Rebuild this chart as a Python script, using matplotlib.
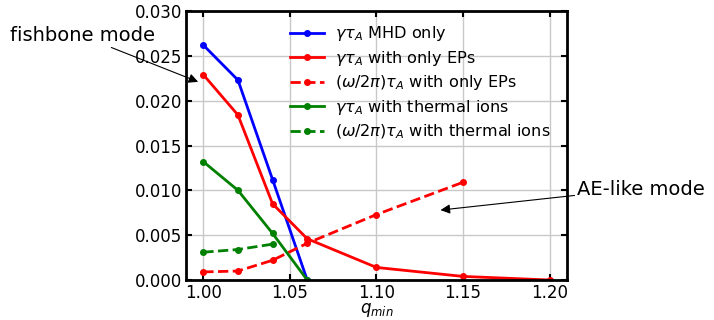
"""Growth rate and frequency vs q_min."""

import matplotlib
matplotlib.use("Agg")
import matplotlib.pyplot as plt

Q_MHD = [1.00, 1.02, 1.04, 1.06]
GAMMA_MHD = [0.0262, 0.0223, 0.0112, 0.0]

Q_EP = [1.00, 1.02, 1.04, 1.06, 1.10, 1.15, 1.20]
GAMMA_EP = [0.0229, 0.0184, 0.0085, 0.0046, 0.0014, 0.0004, 0.0]

Q_EP_FREQ = [1.00, 1.02, 1.04, 1.06, 1.10, 1.15]
FREQ_EP = [0.0009, 0.0010, 0.0022, 0.0041, 0.0073, 0.0109]

Q_TH = [1.00, 1.02, 1.04, 1.06]
GAMMA_TH = [0.0132, 0.0100, 0.0052, 0.0]

Q_TH_FREQ = [1.00, 1.02, 1.04]
FREQ_TH = [0.0031, 0.0034, 0.0040]


def main() -> None:
    fig = plt.figure(figsize=(7.14, 3.2), dpi=100)
    ax = fig.add_axes([0.2605, 0.125, 0.5335, 0.8406])

    ax.plot(Q_MHD, GAMMA_MHD, "b-", marker="o", ms=4, lw=2, label=r"$\gamma\tau_A$ MHD only")
    ax.plot(Q_EP, GAMMA_EP, "r-", marker="o", ms=4, lw=2, label=r"$\gamma\tau_A$ with only EPs")
    ax.plot(Q_EP_FREQ, FREQ_EP, "r--", marker="o", ms=4, lw=2,
            label=r"$(\omega/2\pi)\tau_A$ with only EPs")
    ax.plot(Q_TH, GAMMA_TH, "g-", marker="o", ms=4, lw=2, label=r"$\gamma\tau_A$ with thermal ions")
    ax.plot(Q_TH_FREQ, FREQ_TH, "g--", marker="o", ms=4, lw=2,
            label=r"$(\omega/2\pi)\tau_A$ with thermal ions")

    ax.set_xlim(0.99, 1.21)
    ax.set_ylim(0, 0.030)
    ax.set_xticks([1.00, 1.05, 1.10, 1.15, 1.20])
    ax.set_yticks([0.0, 0.005, 0.010, 0.015, 0.020, 0.025, 0.030])
    ax.set_yticklabels([f"{v:.3f}" for v in ax.get_yticks()])
    ax.set_xticklabels([f"{v:.2f}" for v in ax.get_xticks()])
    ax.tick_params(direction="in", right=True, top=True, labelsize=12, width=1.5, length=4, pad=3)
    ax.grid(True, color="#c8c8c8", lw=1)
    for sp in ax.spines.values():
        sp.set_linewidth(2)
    ax.set_xlabel(r"$q_{min}$", fontsize=12, labelpad=-1)

    ax.legend(loc="upper center", bbox_to_anchor=(0.615, 1.005), frameon=False, fontsize=11.6,
              handlelength=2.1, labelspacing=0.35, handletextpad=0.7)

    ax.annotate("fishbone mode", xy=(0.997, 0.0221), xytext=(0.8884, 0.0273),
                fontsize=14, ha="left", va="center",
                arrowprops=dict(arrowstyle="-|>", color="black", lw=0.8,
                                shrinkA=0, shrinkB=0, relpos=(0.65, 0.0)),
                annotation_clip=False)
    ax.annotate("AE-like mode", xy=(1.137, 0.0078), xytext=(1.216, 0.0101),
                fontsize=14, ha="left", va="center",
                arrowprops=dict(arrowstyle="-|>", color="black", lw=0.8,
                                shrinkA=0, shrinkB=0, relpos=(0.0, 0.2)),
                annotation_clip=False)

    fig.savefig("out.png", dpi=100)
    plt.close(fig)


if __name__ == "__main__":
    main()
